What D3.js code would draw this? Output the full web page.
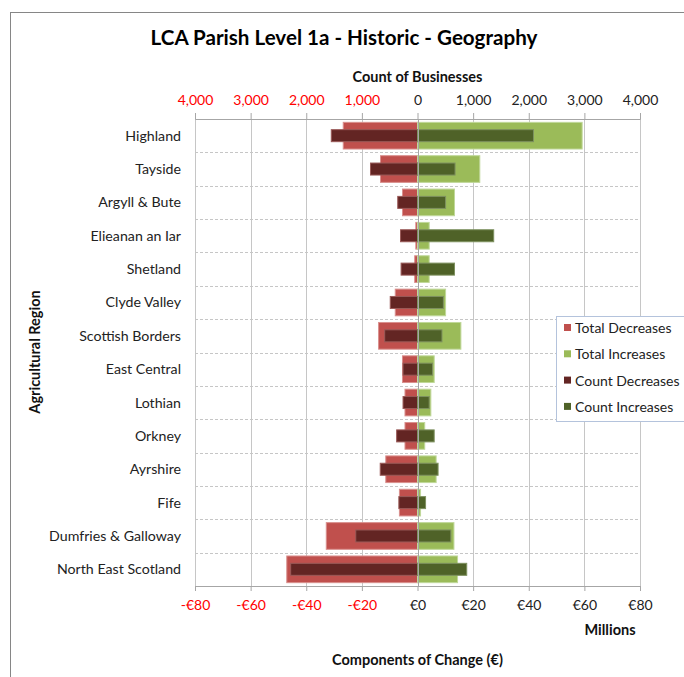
<!DOCTYPE html>
<html>
<head>
<meta charset="utf-8">
<script src="https://cdn.jsdelivr.net/npm/d3@7"></script>
<style>
  body { margin: 0; background: #fff; }
  svg { display: block; font-family: Lato, "Open Sans", sans-serif; }
</style>
</head>
<body>
<div id="chart"></div>
<script>
// regions, top to bottom
const regions = ["Highland", "Tayside", "Argyll & Bute", "Elieanan an Iar", "Shetland",
  "Clyde Valley", "Scottish Borders", "East Central", "Lothian", "Orkney",
  "Ayrshire", "Fife", "Dumfries & Galloway", "North East Scotland"];

// € millions
const totalDecreases = [-26.7, -13.3, -5.4, -0.6, -1.0, -8.0, -14.0, -5.4, -4.5, -4.5, -11.4, -6.5, -32.8, -47.0];
const totalIncreases = [59.2, 22.4, 13.3, 4.2, 4.2, 10.1, 15.6, 6.0, 4.8, 2.6, 6.7, 1.1, 13.1, 14.4];
// number of businesses
const countDecreases = [-1550, -845, -355, -305, -295, -490, -590, -260, -260, -375, -670, -335, -1110, -2280];
const countIncreases = [2085, 675, 505, 1370, 665, 465, 440, 270, 210, 300, 370, 145, 600, 885];

const moneyTicks = [-80, -60, -40, -20, 0, 20, 40, 60, 80];
const countTicks = [-4000, -3000, -2000, -1000, 0, 1000, 2000, 3000, 4000];

const W = 684, H = 677;
const plotL = 195, plotR = 640, plotT = 119, plotB = 586;

const svg = d3.select("#chart").append("svg").attr("width", W).attr("height", H);

// outer chart border (runs off the picture on the right and bottom)
svg.append("rect").attr("x", 10.5).attr("y", 12.5).attr("width", 700).attr("height", 700)
  .attr("fill", "#fff").attr("stroke", "#868686").attr("stroke-width", 1);

const xMoney = d3.scaleLinear().domain([-80, 80]).range([plotL, plotR]);
const xCount = d3.scaleLinear().domain([-4000, 4000]).range([plotL, plotR]);
const y = d3.scaleBand().domain(regions).range([plotT, plotB]);

const colors = {
  totalDec: "#C0504D", totalInc: "#9BBB59",
  countDec: "#632523", countInc: "#4F6228"
};
const strokes = {
  totalDec: "#d9908e", totalInc: "#c0d89a",
  countDec: "#9a5a58", countInc: "#7e9160"
};

// vertical gridlines
svg.append("g").selectAll("line").data(moneyTicks).join("line")
  .attr("x1", d => Math.round(xMoney(d)) + 0.5).attr("x2", d => Math.round(xMoney(d)) + 0.5)
  .attr("y1", plotT).attr("y2", plotB)
  .attr("stroke", "#c6c6c6").attr("stroke-width", 1);

// horizontal dashed separators between regions
svg.append("g").selectAll("line").data(regions.slice(1)).join("line")
  .attr("x1", plotL).attr("x2", plotR)
  .attr("y1", d => Math.round(y(d)) + 0.5).attr("y2", d => Math.round(y(d)) + 0.5)
  .attr("stroke", "#c6c6c6").attr("stroke-dasharray", "3,2");

const totalH = y.bandwidth() * 0.8;
const countH = y.bandwidth() * 0.36;

function bars(vals, scale, h, key) {
  svg.append("g").selectAll("rect").data(vals).join("rect")
    .attr("x", d => scale(Math.min(0, d)))
    .attr("width", d => Math.abs(scale(d) - scale(0)))
    .attr("y", (d, i) => y(regions[i]) + (y.bandwidth() - h) / 2)
    .attr("height", h)
    .attr("fill", colors[key])
    .attr("stroke", strokes[key]).attr("stroke-width", 1);
}
bars(totalDecreases, xMoney, totalH, "totalDec");
bars(totalIncreases, xMoney, totalH, "totalInc");
bars(countDecreases, xCount, countH, "countDec");
bars(countIncreases, xCount, countH, "countInc");

// zero line on top
svg.append("line")
  .attr("x1", Math.round(xMoney(0)) + 0.5).attr("x2", Math.round(xMoney(0)) + 0.5)
  .attr("y1", plotT).attr("y2", plotB)
  .attr("stroke", "#a6a6a6");

// bottom axis (€ millions)
const fmtMoney = d => (d < 0 ? "-€" : "€") + Math.abs(d);
const axB = svg.append("g").attr("transform", `translate(0,${plotB})`)
  .call(d3.axisBottom(xMoney).tickValues(moneyTicks).tickFormat(fmtMoney).tickSize(5).tickPadding(9));
// top axis (count)
const fmtCount = d => d3.format(",")(Math.abs(d));
const axT = svg.append("g").attr("transform", `translate(0,${plotT})`)
  .call(d3.axisTop(xCount).tickValues(countTicks).tickFormat(fmtCount).tickSize(6).tickPadding(8));

[axB, axT].forEach(ax => {
  ax.select(".domain").attr("stroke", "#a6a6a6");
  ax.selectAll(".tick line").attr("stroke", "#a6a6a6");
  ax.selectAll(".tick text")
    .attr("font-size", 14).attr("font-family", "Lato, sans-serif")
    .attr("fill", d => d < 0 ? "#ff0000" : "#222");
});

// category labels
svg.append("g").selectAll("text").data(regions).join("text")
  .attr("x", 181)
  .attr("y", d => y(d) + y.bandwidth() / 2)
  .attr("dy", "0.35em")
  .attr("text-anchor", "end")
  .attr("font-size", 14.2)
  .attr("fill", "#222")
  .text(d => d);

// titles
svg.append("text").attr("x", 344).attr("y", 45).attr("text-anchor", "middle")
  .attr("font-size", 20.6).attr("font-weight", "bold").attr("fill", "#000")
  .text("LCA Parish Level 1a - Historic - Geography");

svg.append("text").attr("x", xCount(0)).attr("y", 82).attr("text-anchor", "middle")
  .attr("font-size", 14.5).attr("font-weight", "bold").attr("fill", "#111")
  .text("Count of Businesses");

svg.append("text").attr("x", 610).attr("y", 635).attr("text-anchor", "middle")
  .attr("font-size", 14.5).attr("font-weight", "bold").attr("fill", "#111")
  .text("Millions");

svg.append("text").attr("x", xMoney(0)).attr("y", 665).attr("text-anchor", "middle")
  .attr("font-size", 14.5).attr("font-weight", "bold").attr("fill", "#111")
  .text("Components of Change (€)");

svg.append("text").attr("transform", "translate(40,352) rotate(-90)").attr("text-anchor", "middle")
  .attr("font-size", 14.5).attr("font-weight", "bold").attr("fill", "#111")
  .text("Agricultural Region");

// legend
const legendItems = [
  ["Total Decreases", "totalDec"], ["Total Increases", "totalInc"],
  ["Count Decreases", "countDec"], ["Count Increases", "countInc"]
];
const lg = svg.append("g").attr("transform", "translate(556,316)");
lg.append("rect").attr("x", 0.5).attr("y", 0.5).attr("width", 140).attr("height", 105)
  .attr("fill", "#fff").attr("stroke", "#b4c3dc");
const li = lg.selectAll("g").data(legendItems).join("g")
  .attr("transform", (d, i) => `translate(8,${12 + i * 26.3})`);
li.append("rect").attr("x", 0).attr("y", -4).attr("width", 7).attr("height", 7)
  .attr("fill", d => colors[d[1]]);
li.append("text").attr("x", 11).attr("y", 0).attr("dy", "0.35em")
  .attr("font-size", 14).attr("fill", "#222").text(d => d[0]);
</script>
</body>
</html>
